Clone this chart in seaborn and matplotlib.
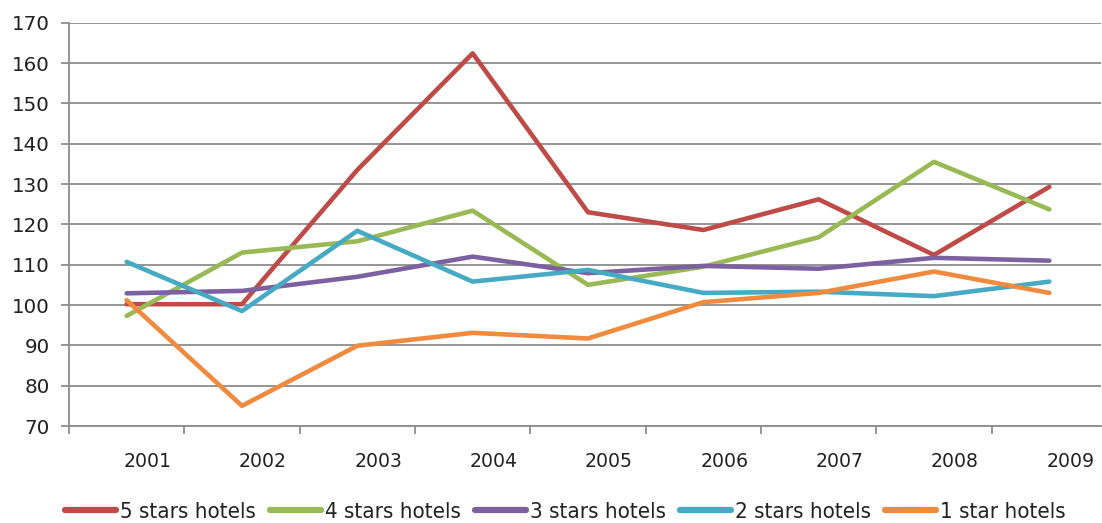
import matplotlib
matplotlib.use("Agg")
import matplotlib.pyplot as plt
import matplotlib.transforms as mtransforms
from matplotlib.ticker import FixedLocator, NullFormatter
import numpy as np
import pandas as pd
import seaborn as sns

years = ["2001", "2002", "2003", "2004", "2005", "2006", "2007", "2008", "2009"]
series_names = ["5 stars hotels", "4 stars hotels", "3 stars hotels", "2 stars hotels", "1 star hotels"]

five_stars = [100.2, 100.2, 133.5, 162.4, 123.0, 118.6, 126.2, 112.4, 129.3]
four_stars = [97.3, 113.0, 115.8, 123.4, 105.0, 109.5, 116.8, 135.5, 123.7]
three_stars = [102.9, 103.5, 107.0, 112.0, 107.9, 109.7, 109.0, 111.7, 111.0]
two_stars = [110.7, 98.5, 118.4, 105.8, 108.7, 103.0, 103.3, 102.2, 105.8]
one_star = [101.2, 75.0, 89.9, 93.1, 91.7, 100.7, 103.0, 108.3, 103.0]

colors = ["#BE4B48", "#98B954", "#7D60A0", "#46AAC5", "#F08A3E"]
y_ticks = [70, 80, 90, 100, 110, 120, 130, 140, 150, 160, 170]

values = [five_stars, four_stars, three_stars, two_stars, one_star]
df = pd.DataFrame(
    [
        {"pos": i, "year": years[i], "series": name, "value": v}
        for name, vals in zip(series_names, values)
        for i, v in enumerate(vals)
    ]
)

sns.set_style("white")
plt.rcParams["font.family"] = ["DejaVu Sans"]

fig = plt.figure(figsize=(11.02, 5.23), dpi=100)
W, H = 1102, 523
left_px, right_px, top_px, bottom_px = 69, 1101, 22.7, 426
ax = fig.add_axes([left_px / W, 1 - bottom_px / H, (right_px - left_px) / W, (bottom_px - top_px) / H])

sns.lineplot(
    data=df, x="pos", y="value", hue="series", hue_order=series_names,
    palette=colors, linewidth=3.3, ax=ax, legend=True, sort=False,
)
for line in ax.lines:
    line.set_solid_joinstyle("round")
    line.set_solid_capstyle("round")

ax.set_ylim(70, 170)
cat_w = (1107 - left_px) / 9.0
ax.set_xlim(-0.5, -0.5 + (right_px - left_px) / cat_w)
ax.set_xlabel("")
ax.set_ylabel("")

# horizontal gridlines
ax.set_yticks(y_ticks)
ax.yaxis.grid(True, color="#8C8C8C", linewidth=1.3)
ax.xaxis.grid(False)
ax.set_axisbelow(True)

for side in ["top", "right"]:
    ax.spines[side].set_visible(False)
for side in ["left", "bottom"]:
    ax.spines[side].set_visible(True)
    ax.spines[side].set_color("#8C8C8C")
    ax.spines[side].set_linewidth(1.3)

ax.tick_params(axis="y", which="major", length=6, width=1.3, color="#8C8C8C",
               labelsize=14.3, labelcolor="#222222", pad=8, left=True)

# category labels between boundary tick marks
ax.set_xticks(range(len(years)))
ax.set_xticklabels(years)
ax.xaxis.set_minor_locator(FixedLocator(np.arange(-0.5, 9.0, 1.0)))
ax.xaxis.set_minor_formatter(NullFormatter())
ax.tick_params(axis="x", which="major", length=0, labelsize=13.6, labelcolor="#222222", pad=19)
ax.tick_params(axis="x", which="minor", length=6, width=1.3, color="#8C8C8C", bottom=True)
shift = mtransforms.ScaledTranslation(0.21, 0, fig.dpi_scale_trans)
for lbl in ax.get_xticklabels():
    lbl.set_transform(lbl.get_transform() + shift)

handles = ax.get_legend().legend_handles
leg = ax.legend(
    handles=handles, labels=series_names,
    loc="center", bbox_to_anchor=((565 - left_px) / (right_px - left_px),
                                  -(512 - bottom_px) / (bottom_px - top_px)),
    ncol=5, frameon=False, handlelength=2.3, handletextpad=0.18,
    columnspacing=0.63, borderaxespad=0, borderpad=0,
    prop={"size": 16, "stretch": "condensed"},
)
for h in leg.get_lines():
    h.set_linewidth(4.5)
for t in leg.get_texts():
    t.set_color("#222222")

fig.savefig("out.png", dpi=100)
